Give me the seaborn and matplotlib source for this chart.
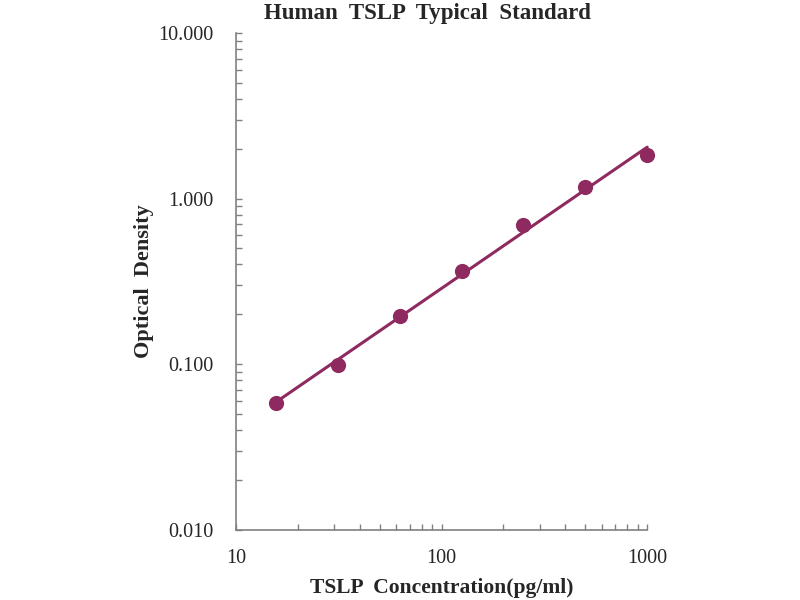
import matplotlib
matplotlib.use("Agg")
import matplotlib.pyplot as plt
import matplotlib.ticker as mticker
import numpy as np
import pandas as pd
import seaborn as sns

# standard curve values
CONCENTRATION = [15.6, 31.25, 62.5, 125, 250, 500, 1000]
OPTICAL_DENSITY = [0.058, 0.099, 0.196, 0.366, 0.69, 1.17, 1.83]

TITLE = "Human  TSLP  Typical  Standard"
X_LABEL = "TSLP  Concentration(pg/ml)"
Y_LABEL = "Optical  Density"
COLOR = "#8E2A5F"
AXIS_GREY = "#808080"


def main() -> None:
    sns.set_style("ticks")
    plt.rcParams["font.family"] = ["Liberation Serif", "DejaVu Serif"]

    df = pd.DataFrame({"conc": CONCENTRATION, "od": OPTICAL_DENSITY})

    # power trendline, fitted in log-log space
    slope, intercept = np.polyfit(np.log10(df["conc"]), np.log10(df["od"]), 1)
    fit_x = np.array([df["conc"].min(), df["conc"].max()])
    fit_y = 10 ** (intercept + slope * np.log10(fit_x))

    fig = plt.figure(figsize=(8, 6), dpi=100)
    ax = fig.add_axes([0.295, 0.117, 0.514, 0.828])

    ax.plot(fit_x, fit_y, color=COLOR, lw=2.2, zorder=2, clip_on=False)
    sns.scatterplot(data=df, x="conc", y="od", ax=ax, color=COLOR, s=120,
                    edgecolor=COLOR, linewidth=0, zorder=3, clip_on=False)

    ax.set_xscale("log")
    ax.set_yscale("log")
    ax.set_xlim(10, 1000)
    ax.set_ylim(0.01, 10)

    ax.xaxis.set_major_locator(mticker.FixedLocator([10, 100, 1000]))
    ax.xaxis.set_major_formatter(mticker.FuncFormatter(lambda v, _: f"{v:g}"))
    ax.yaxis.set_major_locator(mticker.FixedLocator([0.01, 0.1, 1, 10]))
    ax.yaxis.set_major_formatter(mticker.FuncFormatter(lambda v, _: f"{v:.3f}"))
    ax.xaxis.set_minor_locator(mticker.LogLocator(base=10, subs=np.arange(2, 10)))
    ax.yaxis.set_minor_locator(mticker.LogLocator(base=10, subs=np.arange(2, 10)))
    ax.xaxis.set_minor_formatter(mticker.NullFormatter())
    ax.yaxis.set_minor_formatter(mticker.NullFormatter())

    ax.tick_params(axis="both", which="both", direction="in", length=4.5,
                   width=1, color=AXIS_GREY, labelsize=14.5,
                   bottom=True, left=True, top=False, right=False)
    ax.tick_params(axis="x", which="major", pad=14)
    ax.tick_params(axis="y", which="major", pad=16)

    sns.despine(ax=ax)
    for side in ("left", "bottom"):
        ax.spines[side].set_color(AXIS_GREY)
        ax.spines[side].set_linewidth(1.2)

    ax.set_xlabel(X_LABEL, fontsize=15.5, fontweight="bold", labelpad=7)
    ax.set_ylabel(Y_LABEL, fontsize=16, fontweight="bold")
    ax.yaxis.set_label_coords(-0.20, 0.5)
    ax.set_title(TITLE, fontsize=16.5, fontweight="bold", pad=10, x=0.466)

    fig.savefig("out.png", dpi=100)
    plt.close(fig)


if __name__ == "__main__":
    main()
